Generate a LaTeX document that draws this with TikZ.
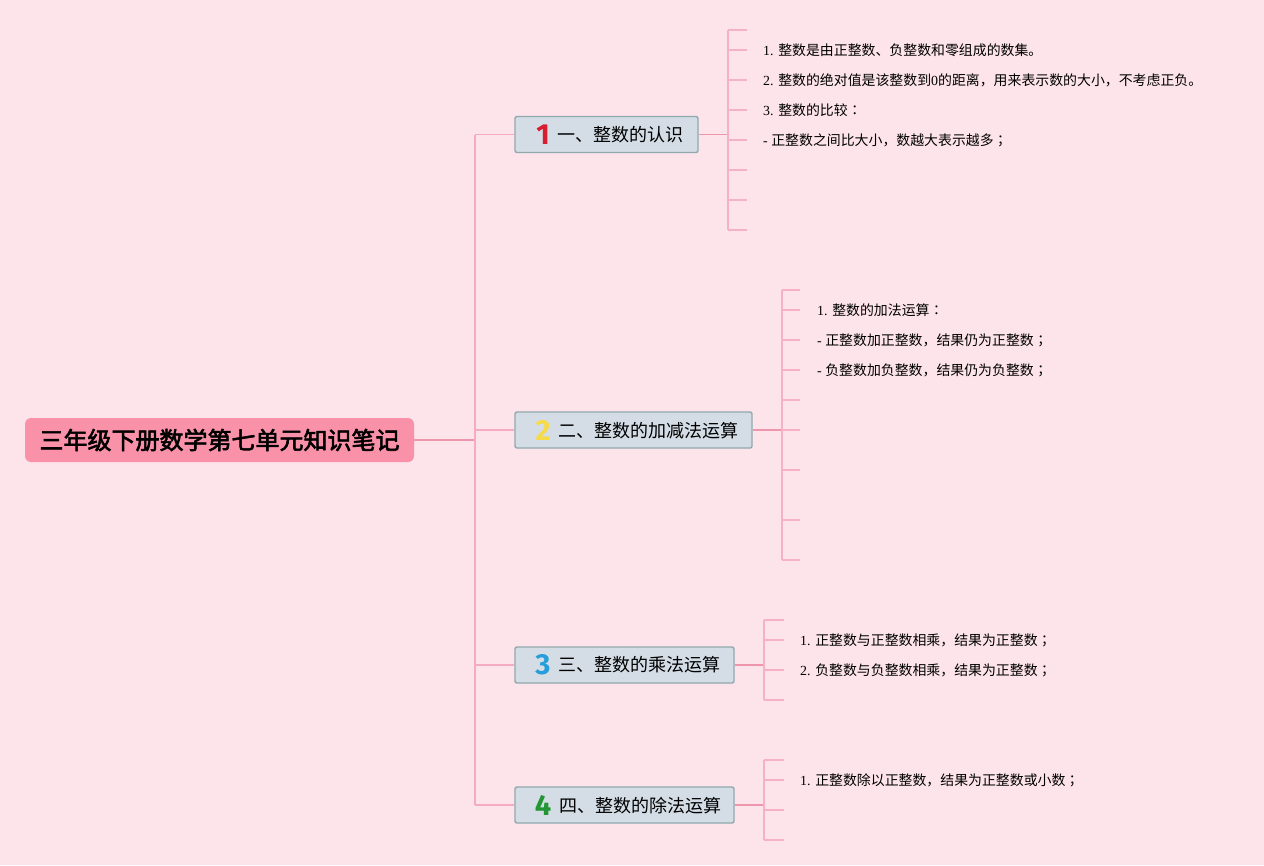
\documentclass[tikz,border=0pt]{standalone}
\usepackage{fontspec}
\setmainfont{Liberation Serif}
\newfontfamily\cjk{Noto Sans CJK SC}
\newfontfamily\cjktc{Noto Sans CJK TC}
\newfontfamily\cjkb[FakeBold=2.5]{Noto Sans CJK SC}
\newfontfamily\numf{Fira Sans}
\definecolor{bgpink}{RGB}{253,228,235}
\definecolor{rootfill}{RGB}{249,146,169}
\definecolor{nodefill}{RGB}{212,221,230}
\definecolor{nodeborder}{RGB}{143,169,172}
\definecolor{linedark}{RGB}{238,150,172}
\definecolor{linelight}{RGB}{245,172,192}
\definecolor{ticklight}{RGB}{245,178,196}
\definecolor{ired}{RGB}{214,30,48}
\definecolor{iyellow}{RGB}{246,218,70}
\definecolor{iblue}{RGB}{38,158,218}
\definecolor{igreen}{RGB}{34,150,50}
\tikzset{
  rootbox/.style={draw=none, fill=rootfill, rounded corners=6pt, minimum width=389pt, minimum height=44pt, inner sep=0pt, font=\cjkb\fontsize{24}{24}\selectfont},
  topicbox/.style={draw=nodeborder, line width=1.4pt, fill=nodefill, rounded corners=2pt, minimum height=36pt, inner sep=0pt, font=\cjk\fontsize{18}{18}\selectfont},
  leaf/.style={anchor=west, inner sep=0pt, font=\cjk\fontsize{13.9}{14}\selectfont},
  rootline/.style={draw=linedark, line width=1.6pt},
  trunkline/.style={draw=linelight, line width=1.6pt},
  branchline/.style={draw=linedark, line width=1.6pt},
  tickline/.style={draw=ticklight, line width=1.3pt}
}
\newcommand{\ic}[2]{\hspace{7pt}\raisebox{-3pt}{\textcolor{#1}{\numf\bfseries\fontsize{29}{29}\selectfont #2}}\hspace{8pt}}
\newcommand{\pc}[1]{{\cjktc #1}}
\begin{document}
\begin{tikzpicture}[x=1pt,y=-1pt]
\fill[bgpink] (0,0) rectangle (1264,865);
\useasboundingbox (0,0) rectangle (1264,865);

% root
\node[rootbox] (root) at (219.5,440) {三年级下册数学第七单元知识笔记};

% topics
\node[topicbox, minimum width=183pt] (n1) at (606.5,134.5) {\ic{ired}{1}一、整数的认识};
\node[topicbox, minimum width=237pt] (n2) at (633.5,430) {\ic{iyellow}{2}二、整数的加减法运算};
\node[topicbox, minimum width=219pt] (n3) at (624.5,665) {\ic{iblue}{3}三、整数的乘法运算};
\node[topicbox, minimum width=219pt] (n4) at (624.5,805) {\ic{igreen}{4}四、整数的除法运算};

% trunk
\coordinate (tr) at (475,440);
\draw[rootline] (root.east) -- (tr |- root.east);
\draw[trunkline] (tr |- n1.west) -- (tr |- n4.west);
\foreach \n in {n1,n2,n3,n4} {\draw[trunkline] (tr |- \n.west) -- (\n.west);}

% branch 1
\coordinate (v1top) at (728,30);
\coordinate (v1bot) at (728,230);
\draw[branchline] (n1.east) -- (v1top |- n1.east);
\draw[tickline] (v1top) -- (v1bot);
\foreach \y [count=\i] in {30,50,80,110,140,170,200,230} {
  \coordinate (a\i) at (747,\y);
  \draw[tickline] (v1top |- a\i) -- (a\i);
}
\node[leaf] (l11) at (763,50) {{\rmfamily 1. }整数是由正整数、负整数和零组成的数集。};
\node[leaf] (l12) at (763,80) {{\rmfamily 2. }整数的绝对值是该整数到{\rmfamily 0}的距离，用来表示数的大小，不考虑正负。};
\node[leaf] (l13) at (763,110) {{\rmfamily 3. }整数的比较\pc{：}};
\node[leaf] (l14) at (763,140) {{\rmfamily - }正整数之间比大小，数越大表示越多\pc{；}};

% branch 2
\coordinate (v2top) at (782,290);
\coordinate (v2bot) at (782,560);
\draw[branchline] (n2.east) -- (v2top |- n2.east);
\draw[tickline] (v2top) -- (v2bot);
\foreach \y [count=\i] in {290,310,340,370,400,430,470,520,560} {
  \coordinate (b\i) at (800,\y);
  \draw[tickline] (v2top |- b\i) -- (b\i);
}
\node[leaf] (l21) at (817,310) {{\rmfamily 1. }整数的加法运算\pc{：}};
\node[leaf] (l22) at (817,340) {{\rmfamily - }正整数加正整数，结果仍为正整数\pc{；}};
\node[leaf] (l23) at (817,370) {{\rmfamily - }负整数加负整数，结果仍为负整数\pc{；}};

% branch 3
\coordinate (v3top) at (764,620);
\coordinate (v3bot) at (764,700);
\draw[branchline] (n3.east) -- (v3top |- n3.east);
\draw[tickline] (v3top) -- (v3bot);
\foreach \y [count=\i] in {620,640,670,700} {
  \coordinate (c\i) at (784,\y);
  \draw[tickline] (v3top |- c\i) -- (c\i);
}
\node[leaf] (l31) at (800,640) {{\rmfamily 1. }正整数与正整数相乘，结果为正整数\pc{；}};
\node[leaf] (l32) at (800,670) {{\rmfamily 2. }负整数与负整数相乘，结果为正整数\pc{；}};

% branch 4
\coordinate (v4top) at (764,760);
\coordinate (v4bot) at (764,840);
\draw[branchline] (n4.east) -- (v4top |- n4.east);
\draw[tickline] (v4top) -- (v4bot);
\foreach \y [count=\i] in {760,780,810,840} {
  \coordinate (d\i) at (784,\y);
  \draw[tickline] (v4top |- d\i) -- (d\i);
}
\node[leaf] (l41) at (800,780) {{\rmfamily 1. }正整数除以正整数，结果为正整数或小数\pc{；}};
\end{tikzpicture}
\end{document}
